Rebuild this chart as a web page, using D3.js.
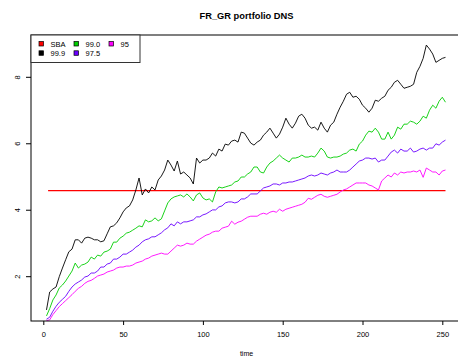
<!DOCTYPE html>
<html>
<head>
  <script src="https://d3js.org/d3.v7.min.js"></script>
  <style>
    body { margin: 0; background: #fff; }
    text { font-family: "Liberation Sans", Arial, sans-serif; fill: #000; }
    .series { fill: none; stroke-width: 0.9; stroke-linejoin: round; }
  </style>
</head>
<body>
  <div id="chart"></div>
  <script>
    var w = 458;
    var h = 356;

    var times = d3.range(2, 253, 2);

    var sbaLevel = 4.59;
    var sbaSpan = [3, 252];

    var q999 = [1.00,1.54,1.63,1.69,2.00,2.26,2.51,2.75,2.83,3.11,3.11,3.01,3.16,3.19,3.16,3.11,3.11,3.05,3.08,3.29,
      3.50,3.53,3.62,3.77,3.95,4.07,4.13,4.31,4.61,4.97,4.46,4.64,4.52,4.70,4.61,4.91,5.03,5.21,5.51,5.36,
      5.18,5.48,5.09,5.15,5.06,4.97,4.79,5.57,5.42,5.51,5.51,5.57,5.72,5.63,5.84,5.78,5.99,5.96,6.08,6.11,
      6.05,6.35,6.32,6.17,6.02,5.96,6.05,6.11,6.26,6.35,6.47,6.32,6.17,6.29,6.50,6.77,6.59,6.47,6.62,6.83,
      6.89,6.77,6.56,6.47,6.50,6.41,6.65,6.47,6.35,6.56,6.65,6.89,7.10,7.28,7.49,7.55,7.40,7.43,7.34,7.16,
      7.07,6.95,7.07,7.31,7.28,7.37,7.43,7.61,7.70,7.85,7.91,7.79,7.67,7.70,7.73,7.79,8.15,8.33,8.57,8.97,
      8.85,8.70,8.45,8.51,8.57,8.60];

    var q990 = [0.82,1.04,1.30,1.45,1.66,1.75,1.87,2.02,2.17,2.41,2.26,2.35,2.38,2.44,2.59,2.53,2.65,2.62,2.74,2.77,
      2.83,3.04,3.04,3.16,3.22,3.31,3.34,3.40,3.46,3.53,3.50,3.71,3.65,3.68,3.77,3.68,3.74,3.98,4.22,4.34,
      4.40,4.43,4.46,4.40,4.49,4.40,4.28,4.46,4.52,4.37,4.31,4.34,4.25,4.55,4.70,4.67,4.70,4.73,4.76,4.85,
      4.88,5.00,5.00,5.09,5.15,5.30,5.30,5.15,5.12,5.30,5.42,5.48,5.57,5.66,5.57,5.51,5.45,5.57,5.57,5.60,
      5.66,5.60,5.60,5.63,5.60,5.72,5.87,5.78,5.60,5.57,5.60,5.60,5.63,5.69,5.72,5.81,5.84,5.78,5.99,6.08,
      6.26,6.38,6.35,6.47,6.35,6.14,6.14,6.35,6.14,6.26,6.50,6.44,6.59,6.59,6.68,6.65,6.59,6.68,6.83,6.77,
      7.01,7.16,7.07,7.28,7.40,7.25];

    var q975 = [0.72,0.78,0.96,1.11,1.23,1.32,1.41,1.56,1.69,1.78,1.84,1.90,1.99,2.02,2.11,2.11,2.17,2.29,2.29,2.38,
      2.41,2.53,2.53,2.59,2.68,2.68,2.74,2.80,2.89,2.95,3.05,3.11,3.14,3.20,3.20,3.26,3.32,3.41,3.47,3.59,
      3.53,3.65,3.59,3.65,3.65,3.68,3.71,3.80,3.80,3.86,3.89,3.95,4.01,4.01,4.10,4.13,4.22,4.25,4.25,4.22,
      4.25,4.34,4.34,4.40,4.49,4.49,4.49,4.58,4.67,4.70,4.73,4.79,4.79,4.76,4.82,4.82,4.85,4.85,4.88,4.91,
      4.94,4.97,5.03,5.06,5.03,5.06,5.12,5.09,5.06,5.12,5.15,5.21,5.15,5.15,5.15,5.21,5.30,5.39,5.48,5.51,
      5.57,5.57,5.54,5.57,5.45,5.51,5.51,5.63,5.75,5.81,5.72,5.84,5.78,5.78,5.87,5.75,5.78,5.84,5.87,5.81,
      5.87,5.87,6.00,5.96,6.05,6.11];

    var q950 = [0.68,0.70,0.86,0.98,1.10,1.19,1.28,1.37,1.46,1.56,1.65,1.71,1.80,1.86,1.89,1.95,2.02,2.05,2.08,2.14,
      2.17,2.20,2.26,2.29,2.29,2.32,2.32,2.35,2.41,2.44,2.47,2.53,2.56,2.62,2.65,2.68,2.71,2.68,2.68,2.77,
      2.86,2.95,2.92,2.95,3.01,2.98,2.98,3.07,3.13,3.19,3.25,3.28,3.34,3.37,3.37,3.46,3.49,3.52,3.67,3.58,
      3.64,3.67,3.73,3.79,3.82,3.82,3.82,3.88,3.91,3.88,3.94,3.97,3.94,4.03,3.97,4.03,4.06,4.09,4.12,4.15,
      4.18,4.24,4.36,4.33,4.39,4.45,4.48,4.42,4.39,4.42,4.45,4.48,4.55,4.61,4.64,4.70,4.76,4.82,4.82,4.82,
      4.82,4.76,4.73,4.67,4.61,4.88,4.97,5.06,5.00,5.12,5.06,5.15,5.12,5.15,5.15,5.18,5.15,5.21,4.99,5.27,
      5.21,5.15,5.15,5.06,5.18,5.21];

    var legendLabels = ["SBA", "99.9", "99.0", "97.5", "95"];
    var legendColors = ["#ff0000", "#000000", "#00cd00", "#6a00ff", "#ff00ff"];

    var xTicks = [0, 50, 100, 150, 200, 250];
    var yTicks = [2, 4, 6, 8];

    var plot = { left: 31, top: 35, right: 470, bottom: 321 };

    var svg = d3.select("#chart").append("svg")
      .attr("width", w)
      .attr("height", h);

    var xScale = d3.scaleLinear().domain([0, 250]).range([43.3, 442.3]);
    var yScale = d3.scaleLinear().domain([2, 8]).range([276.7, 77.3]);

    svg.append("clipPath").attr("id", "clip")
      .append("rect")
      .attr("x", plot.left).attr("y", plot.top)
      .attr("width", plot.right - plot.left).attr("height", plot.bottom - plot.top);

    // title
    svg.append("text")
      .attr("x", 246.5).attr("y", 19)
      .attr("text-anchor", "middle")
      .style("font-size", "9.3px")
      .style("font-weight", "bold")
      .text("FR_GR portfolio DNS");

    var lines = svg.append("g").attr("clip-path", "url(#clip)");

    // SBA reference line
    lines.append("line")
      .attr("x1", xScale(sbaSpan[0])).attr("x2", xScale(sbaSpan[1]))
      .attr("y1", yScale(sbaLevel)).attr("y2", yScale(sbaLevel))
      .attr("stroke", legendColors[0])
      .attr("stroke-width", 1.2);

    var seriesList = [q999, q990, q975, q950];
    var line = d3.line()
      .x(function(d, i) { return xScale(times[i]); })
      .y(function(d) { return yScale(d); });

    seriesList.slice().reverse().forEach(function(vals, j) {
      var idx = seriesList.length - j;
      lines.append("path")
        .attr("class", "series")
        .attr("d", line(vals))
        .attr("stroke", legendColors[idx]);
    });

    // frame (right side runs off the page)
    svg.append("rect")
      .attr("x", plot.left).attr("y", plot.top)
      .attr("width", plot.right - plot.left).attr("height", plot.bottom - plot.top)
      .attr("fill", "none")
      .attr("stroke", "#000")
      .attr("stroke-width", 1);

    // axes
    var xAxis = d3.axisBottom(xScale).tickValues(xTicks).tickSize(4).tickPadding(7);
    var xg = svg.append("g")
      .attr("transform", "translate(0," + plot.bottom + ")")
      .call(xAxis);
    xg.select(".domain").remove();
    xg.selectAll("text").style("font-size", "7.5px").style("font-family", "Liberation Sans, Arial, sans-serif");

    var yAxis = d3.axisLeft(yScale).tickValues(yTicks).tickSize(5).tickFormat(d3.format("d"));
    var yg = svg.append("g")
      .attr("transform", "translate(" + plot.left + ",0)")
      .call(yAxis);
    yg.select(".domain").remove();
    yg.selectAll(".tick").attr("transform", "translate(0,0)");
    yg.selectAll(".tick line")
      .attr("y1", function(d) { return yScale(d); })
      .attr("y2", function(d) { return yScale(d); });
    yg.selectAll("text")
      .style("font-size", "7.5px")
      .style("font-family", "Liberation Sans, Arial, sans-serif")
      .attr("x", null).attr("y", null).attr("dy", null)
      .attr("text-anchor", "middle")
      .attr("transform", function(d) { return "translate(-11.5," + yScale(d) + ") rotate(-90)"; });

    // x label
    svg.append("text")
      .attr("x", 246.5).attr("y", 356)
      .attr("text-anchor", "middle")
      .style("font-size", "7px")
      .text("time");

    // legend
    var legend = svg.append("g");
    legend.append("rect")
      .attr("x", plot.left).attr("y", plot.top)
      .attr("width", 109).attr("height", 27.5)
      .attr("fill", "#fff")
      .attr("stroke", "#333")
      .attr("stroke-width", 1);

    var colX = [39, 74, 109];
    var rowY = [44, 53.3];
    legendLabels.forEach(function(lab, i) {
      var c = Math.floor(i / 2), r = i % 2;
      legend.append("rect")
        .attr("x", colX[c]).attr("y", rowY[r] - 2.5)
        .attr("width", 4.5).attr("height", 4.5)
        .attr("fill", legendColors[i])
        .attr("stroke", "#000")
        .attr("stroke-width", 0.7);
      legend.append("text")
        .attr("x", colX[c] + 11.5).attr("y", rowY[r] + 2.7)
        .style("font-size", "7.5px")
        .text(lab);
    });
  </script>
</body>
</html>
